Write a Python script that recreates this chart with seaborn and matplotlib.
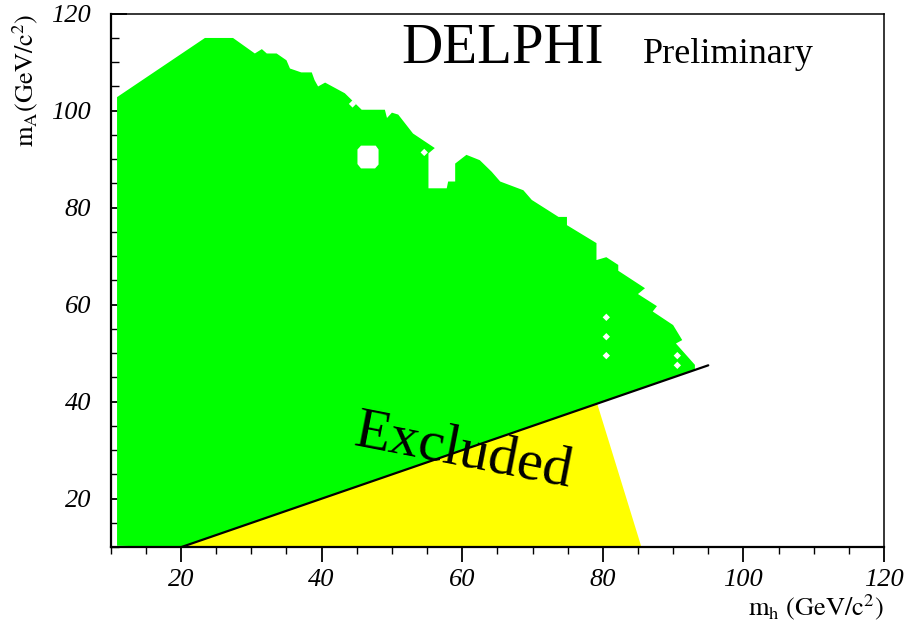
import matplotlib
matplotlib.use("Agg")
import matplotlib.pyplot as plt
import seaborn as sns
import pandas as pd

# ---- data ----
# allowed (green) region boundary: m_h, m_A
green_mh = [10.9, 10.9, 23.4, 27.4, 30.5, 31.5, 32.2, 33.6, 35.0, 35.5, 37.1, 38.6,
            39.0, 39.5, 40.5, 43.3, 45.7, 49.0, 49.3, 50.0, 50.9, 53.0, 56.1, 55.2,
            55.2, 57.8, 58.0, 59.0, 59.0, 60.6, 62.5, 64.2, 65.4, 68.7, 69.9, 73.7,
            74.9, 74.9, 79.1, 79.1, 80.5, 82.2, 82.2, 86.0, 85.0, 87.7, 87.1, 90.0,
            91.3, 90.4, 93.1, 93.1, 20.0]
green_mA = [10.3, 102.8, 115.0, 115.0, 111.8, 112.7, 111.8, 111.8, 110.4, 108.7, 107.9, 107.9,
            106.3, 105.0, 105.8, 103.6, 100.2, 100.2, 98.5, 99.6, 99.2, 95.3, 92.3, 91.2,
            84.0, 84.0, 85.4, 85.4, 89.1, 90.9, 89.8, 87.4, 85.4, 83.6, 81.6, 78.1,
            78.1, 76.4, 72.7, 69.2, 69.8, 68.2, 67.0, 63.4, 62.2, 59.7, 58.6, 55.8,
            52.7, 52.0, 47.6, 46.6, 10.0]
# hole inside the allowed region
hole_mh = [45.1, 45.1, 45.6, 47.7, 48.1, 48.1, 47.6, 45.6]
hole_mA = [89.0, 92.0, 92.8, 92.8, 92.0, 88.9, 88.1, 88.1]
# isolated unexcluded points
dot_mh = [44.4, 54.6, 80.5, 80.5, 80.5, 90.6, 90.6]
dot_mA = [101.4, 91.4, 57.4, 53.4, 49.5, 49.5, 47.5]
# theoretically excluded (yellow) region
yellow_mh = [20.0, 79.2, 85.5]
yellow_mA = [10.0, 39.6, 10.0]
# kinematic limit line
line_mh = [20.0, 95.0]
line_mA = [10.0, 47.5]

xticks = [20, 40, 60, 80, 100, 120]
yticks = [20, 40, 60, 80, 100, 120]

# ---- style ----
sns.set_style("ticks")
plt.rcParams['font.family'] = ['Liberation Serif', 'DejaVu Serif']
plt.rcParams['mathtext.fontset'] = 'stix'
for k in ['text.color', 'axes.labelcolor', 'xtick.color', 'ytick.color', 'axes.edgecolor']:
    plt.rcParams[k] = 'black'

fig = plt.figure(figsize=(9.09, 6.32), dpi=100)
ax = fig.add_axes([0.1218, 0.1342, 0.9725 - 0.1218, 0.9783 - 0.1342])

ax.fill(green_mh, green_mA, color='#00ff00', lw=0, zorder=1)
ax.fill(hole_mh, hole_mA, color='white', lw=0, zorder=2)
ax.fill(yellow_mh, yellow_mA, color='#ffff00', lw=0, zorder=1)

sns.scatterplot(x=dot_mh, y=dot_mA, marker='D', s=14, color='white',
                edgecolor='none', ax=ax, zorder=3)
sns.lineplot(data=pd.DataFrame({'mh': line_mh, 'mA': line_mA}), x='mh', y='mA',
             color='black', lw=1.6, ax=ax, zorder=4)

ax.set_xlim(10, 120)
ax.set_ylim(10, 120)
ax.set_xticks(xticks)
ax.set_yticks(yticks)
ax.set_xticks(range(10, 121, 5), minor=True)
ax.set_yticks(range(10, 121, 5), minor=True)
ax.set_xticklabels([str(t) for t in xticks], fontsize=19)
ax.set_yticklabels([str(t) for t in yticks], fontsize=19)
for lbl in ax.get_xticklabels() + ax.get_yticklabels():
    lbl.set_fontstyle('italic')

ax.tick_params(axis='x', which='major', direction='out', length=11, width=1.3, pad=5)
ax.tick_params(axis='x', which='minor', direction='out', length=5, width=1.0)
ax.tick_params(axis='y', which='major', direction='in', length=11.5, width=1.3, pad=14)
ax.tick_params(axis='y', which='minor', direction='in', length=6, width=1.0)

for side in ['left', 'bottom']:
    ax.spines[side].set_linewidth(1.6)
for side in ['top', 'right']:
    ax.spines[side].set_linewidth(1.1)
    ax.spines[side].set_visible(True)
for s in ax.spines.values():
    s.set_color('black')

ax.set_xlabel(r'$\mathrm{m_h\ (GeV/c^2)}$', fontsize=19, loc='right')
ax.xaxis.set_label_coords(1.0, -0.085)
ax.set_ylabel(r'$\mathrm{m_A(GeV/c^2)}$', fontsize=19, loc='top')
ax.yaxis.set_label_coords(-0.092, 1.0)

ax.text(65.8, 109.8, 'DELPHI', fontsize=41, ha='center', va='baseline', zorder=5)
ax.text(97.8, 109.8, 'Preliminary', fontsize=26, ha='center', va='baseline', zorder=5)
ax.text(60.1, 29.6, 'Excluded', fontsize=42, ha='center', va='center',
        rotation=-11, rotation_mode='anchor', zorder=5)

fig.savefig('out.png', dpi=100)
